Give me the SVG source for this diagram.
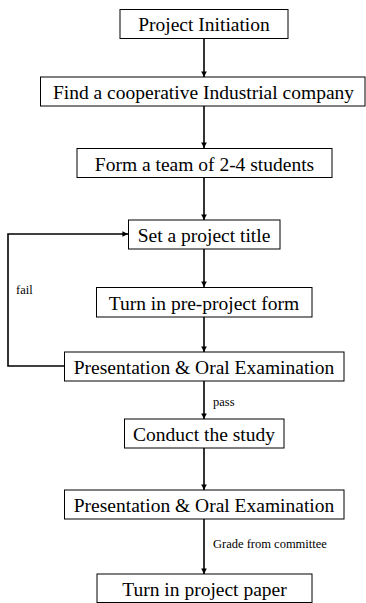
<svg xmlns="http://www.w3.org/2000/svg" width="366" height="603" viewBox="0 0 366 603">
<style>
.box{fill:#fff;stroke:#000;stroke-width:1}
.t{font-family:"Liberation Serif","Times New Roman",serif;font-size:19.5px;text-anchor:middle;fill:#000}
.s{font-family:"Liberation Serif","Times New Roman",serif;font-size:12.5px;fill:#000}
.c{fill:none;stroke:#000;stroke-width:1.6}
</style>
<defs>
<marker id="ah" viewBox="0 0 6 6" refX="6" refY="3" markerWidth="3.5" markerHeight="3.5" orient="auto" markerUnits="strokeWidth">
<path d="M0,0 L6,3 L0,6 z" fill="#000"/>
</marker>
</defs>
<rect width="366" height="603" fill="#fff"/>
<g id="connectors">
<line class="c" x1="204" y1="38" x2="204" y2="77" marker-end="url(#ah)"/>
<line class="c" x1="204" y1="106" x2="204" y2="148" marker-end="url(#ah)"/>
<line class="c" x1="204" y1="177" x2="204" y2="220" marker-end="url(#ah)"/>
<line class="c" x1="204" y1="249" x2="204" y2="287" marker-end="url(#ah)"/>
<line class="c" x1="204" y1="317" x2="204" y2="352" marker-end="url(#ah)"/>
<line class="c" x1="204" y1="381" x2="204" y2="419" marker-end="url(#ah)"/>
<line class="c" x1="204" y1="448" x2="204" y2="490" marker-end="url(#ah)"/>
<line class="c" x1="204" y1="519" x2="204" y2="574" marker-end="url(#ah)"/>
<polyline class="c" points="64,366 8,366 8,234 128,234" marker-end="url(#ah)"/>
<text class="s" x="16" y="294">fail</text>
<text class="s" x="213" y="406">pass</text>
<text class="s" x="213" y="548">Grade from committee</text>
</g>
<g id="n1"><rect class="box" x="120" y="9.5" width="168" height="29"/><text class="t" x="204" y="31">Project Initiation</text></g>
<g id="n2"><rect class="box" x="40.5" y="77" width="324.5" height="29"/><text class="t" x="203.5" y="99">Find a cooperative Industrial company</text></g>
<g id="n3"><rect class="box" x="77" y="148.5" width="255" height="29"/><text class="t" x="204.5" y="170.5">Form a team of 2-4 students</text></g>
<g id="n4"><rect class="box" x="128.5" y="220" width="151.5" height="29"/><text class="t" x="204" y="242">Set a project title</text></g>
<g id="n5"><rect class="box" x="96.5" y="287.5" width="215.5" height="29.5"/><text class="t" x="204" y="309.5">Turn in pre-project form</text></g>
<g id="n6"><rect class="box" x="64.5" y="352" width="279.5" height="29"/><text class="t" x="204" y="374">Presentation &amp; Oral Examination</text></g>
<g id="n7"><rect class="box" x="124.5" y="419" width="159.5" height="29"/><text class="t" x="204" y="441">Conduct the study</text></g>
<g id="n8"><rect class="box" x="64.5" y="490" width="279.5" height="29"/><text class="t" x="204" y="512">Presentation &amp; Oral Examination</text></g>
<g id="n9"><rect class="box" x="97" y="574" width="215" height="28.5"/><text class="t" x="204.5" y="596">Turn in project paper</text></g>
</svg>
